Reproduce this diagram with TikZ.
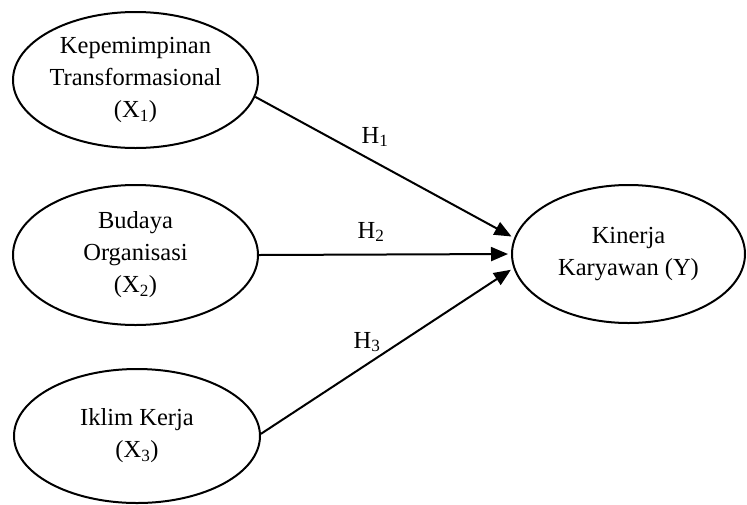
\documentclass[tikz,border=0pt]{standalone}
\usepackage{fontspec}
\setmainfont{Liberation Serif}
\usetikzlibrary{shapes.geometric,arrows.meta}
\begin{document}
\begin{tikzpicture}[x=1pt,y=-1pt,
  var/.style={draw, line width=2pt, ellipse, inner sep=0pt, align=center,
     font=\fontsize{24.5}{32}\selectfont},
  link/.style={line width=2pt, -{Triangle[length=17pt,width=14pt]}, shorten >=3pt},
  hyp/.style={font=\fontsize{24.5}{28}\selectfont, inner sep=0pt}]
\useasboundingbox (0,0) rectangle (747,504);
\node[var, minimum width=245pt, minimum height=136pt] (x1) at (135.5,80) {Kepemimpinan\\Transformasional\\(X\textsubscript{1})};
\node[var, minimum width=245pt, minimum height=140pt] (x2) at (135.5,255) {Budaya\\Organisasi\\(X\textsubscript{2})};
\node[var, minimum width=246pt, minimum height=134pt] (x3) at (137,436) {Iklim Kerja\\(X\textsubscript{3})};
\node[var, minimum width=233pt, minimum height=138pt] (y) at (628.5,254) {Kinerja\\Karyawan (Y)};
\draw[link] (x1.-8) -- (y.172);
\draw[link] (x2.east) -- (y.west);
\draw[link] (x3.1) -- (y.187.5);
\node[hyp] (h1) at (375,137) {H\textsubscript{1}};
\node[hyp] (h2) at (371,232) {H\textsubscript{2}};
\node[hyp] (h3) at (367,342) {H\textsubscript{3}};
\end{tikzpicture}
\end{document}
